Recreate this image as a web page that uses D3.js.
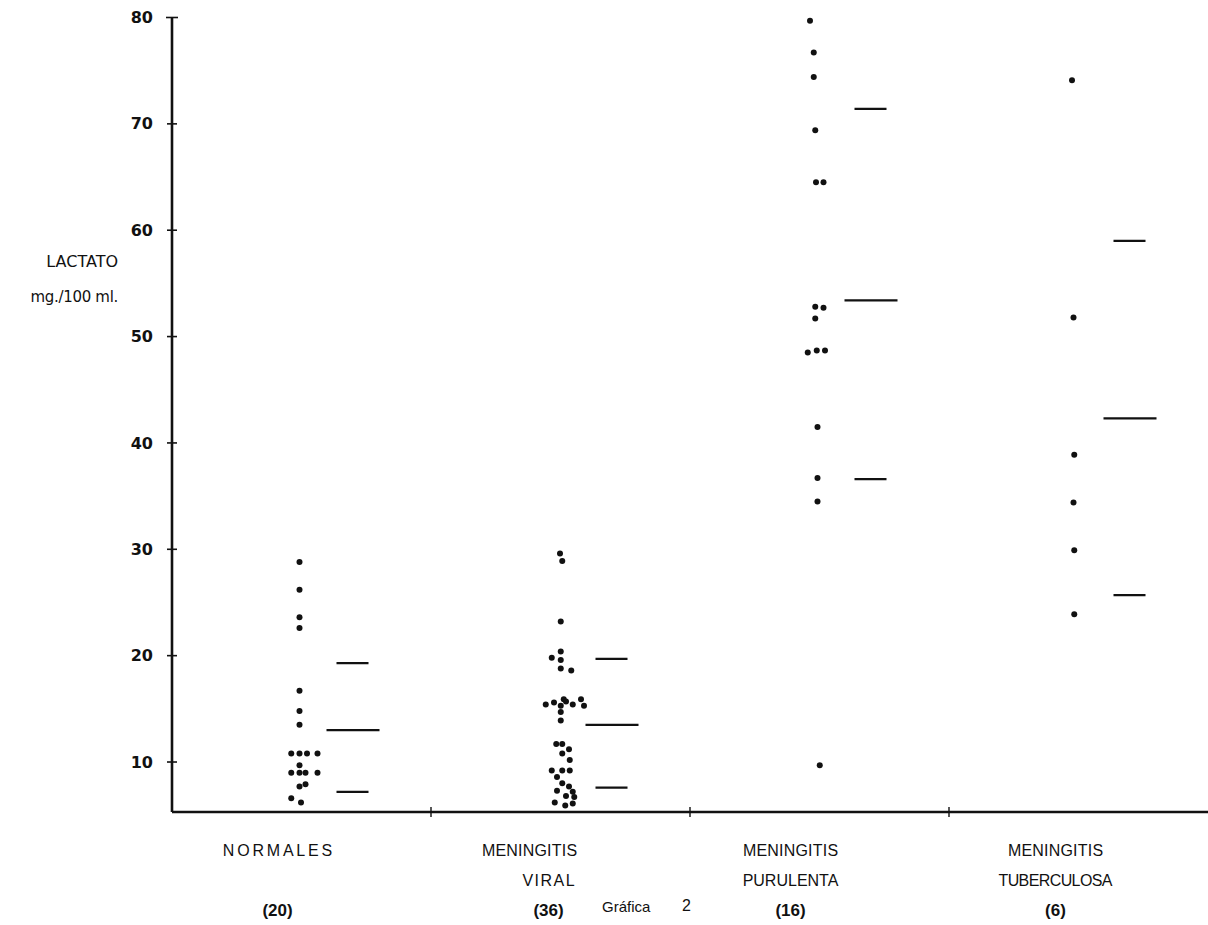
<!DOCTYPE html>
<html><head><meta charset="utf-8">
<script src="https://cdn.jsdelivr.net/npm/d3@7"></script>
<style>
html,body{margin:0;padding:0;background:#fff;}
svg{display:block;}
text{font-family:"Liberation Sans",Arial,sans-serif;fill:#111;}
</style></head>
<body>
<svg id="chart" width="1208" height="925"></svg>
<script>
// ---- data ----
const categories = ["NORMALES", "MENINGITIS VIRAL", "MENINGITIS PURULENTA", "MENINGITIS TUBERCULOSA"];
const labelLine1 = ["NORMALES", "MENINGITIS", "MENINGITIS", "MENINGITIS"];
const labelLine2 = ["", "VIRAL", "PURULENTA", "TUBERCULOSA"];
const labelCounts = ["(20)", "(36)", "(16)", "(6)"];
const yTicks = [10, 20, 30, 40, 50, 60, 70, 80];

const normalesValues = [28.8, 26.2, 23.6, 22.6, 16.7, 14.8, 13.5, 10.8, 10.8, 10.8, 10.8, 9.7, 9.0, 9.0, 9.0, 9.0, 7.9, 7.7, 6.6, 6.2];
const normalesSlots  = [0, 0, 0, 0, 0, 0, 0, -1.1, 0, 1, 2.4, 0, -1.1, 0, 0.8, 2.4, 0.8, 0, -1.1, 0.2];

const viralValues = [29.6, 28.9, 23.2, 20.4, 19.8, 19.6, 18.8, 18.6,
  15.4, 15.6, 15.9, 15.7, 15.4, 15.9, 15.3, 15.3, 14.7, 13.9,
  11.7, 11.7, 11.2, 10.8, 10.2, 9.2, 9.2, 9.2, 8.6, 8.0, 7.7, 7.3, 7.2, 6.8, 6.7, 6.2, 5.9, 6.1];
const viralSlots = [0.2, 0.5, 0.3, 0.3, -0.9, 0.3, 0.3, 1.7,
  -1.7, -0.6, 0.7, 1.0, 1.9, 3.0, 3.4, 0.3, 0.3, 0.3,
  -0.3, 0.5, 1.4, 0.5, 1.5, -0.9, 0.5, 1.5, -0.2, 0.5, 1.4, -0.2, 1.9, 1.0, 2.1, -0.5, 0.9, 1.9];

const purulentaValues = [79.7, 76.7, 74.4, 69.4, 64.5, 64.5, 52.8, 52.7, 51.7, 48.5, 48.7, 48.7, 41.5, 36.7, 34.5, 9.7];
const purulentaSlots  = [-1.0, -0.5, -0.5, -0.3, -0.2, 0.8, -0.3, 0.8, -0.3, -1.3, -0.1, 1.0, 0, 0, 0, 0.3];

const tuberculosaValues = [74.1, 51.8, 38.9, 34.4, 29.9, 23.9];
const tuberculosaSlots  = [-0.6, -0.4, -0.3, -0.4, -0.3, -0.3];

const meanValues  = [13.0, 13.5, 53.4, 42.3];
const upperValues = [19.3, 19.7, 71.4, 59.0];
const lowerValues = [7.2, 7.6, 36.6, 25.7];

// ---- layout ----
const svg = d3.select("#chart");
const axisX = 172, axisY = 812, rightX = 1208, topY = 17.5;
const x = d3.scaleBand().domain(categories).range([axisX, rightX]).paddingInner(0).paddingOuter(0);
const y = d3.scaleLinear().domain([5.3, 80]).range([axisY, topY]);
const slotStep = 7.5;
const bw = x.bandwidth();
const center = c => x(c) + bw / 2 - 2;

const groups = [
  {cat: categories[0], values: normalesValues, slots: normalesSlots},
  {cat: categories[1], values: viralValues, slots: viralSlots},
  {cat: categories[2], values: purulentaValues, slots: purulentaSlots},
  {cat: categories[3], values: tuberculosaValues, slots: tuberculosaSlots}
];

// y axis
const yAxis = d3.axisLeft(y).tickValues(yTicks).tickSize(0).tickPadding(19).tickFormat(d3.format("d"));
const gy = svg.append("g").attr("transform", `translate(${axisX},0)`).call(yAxis);
gy.select(".domain").remove();
gy.selectAll("text").attr("font-size", 16).attr("font-weight", "bold").attr("fill", "#111")
  .style("font-family", '"DejaVu Sans",sans-serif');
svg.append("line").attr("x1", axisX).attr("x2", axisX).attr("y1", y(80)).attr("y2", axisY)
  .attr("stroke", "#111").attr("stroke-width", 2.6);
svg.selectAll(".ytick").data(yTicks).join("line").attr("class", "ytick")
  .attr("x1", d => axisX - (d === 80 ? 6 : 5)).attr("x2", d => axisX + (d === 80 ? 6 : 5))
  .attr("y1", d => y(d)).attr("y2", d => y(d)).attr("stroke", "#111").attr("stroke-width", 1.6);

// x axis
svg.append("line").attr("x1", axisX).attr("x2", rightX).attr("y1", axisY).attr("y2", axisY)
  .attr("stroke", "#111").attr("stroke-width", 2.4);
svg.selectAll(".xtick").data(categories.slice(1)).join("line").attr("class", "xtick")
  .attr("x1", d => x(d)).attr("x2", d => x(d)).attr("y1", axisY - 5).attr("y2", axisY + 5)
  .attr("stroke", "#111").attr("stroke-width", 1.4);

// y label
svg.append("text").attr("x", 118).attr("y", 267).attr("text-anchor", "end").attr("font-size", 16)
  .style("font-family", '"DejaVu Sans",sans-serif').text("LACTATO");
svg.append("text").attr("x", 118).attr("y", 302).attr("text-anchor", "end").attr("font-size", 15)
  .attr("letter-spacing", "-0.3px").style("font-family", '"DejaVu Sans",sans-serif').text("mg./100 ml.");

// dots
groups.forEach(g => {
  svg.append("g").selectAll("circle").data(g.values.map((v, i) => ({v, s: g.slots[i]}))).join("circle")
    .attr("cx", d => center(g.cat) + d.s * slotStep)
    .attr("cy", d => y(d.v))
    .attr("r", 3).attr("fill", "#111");
});

// mean and sd lines
categories.forEach((c, i) => {
  const cx = center(c);
  svg.append("line").attr("x1", cx + 27).attr("x2", cx + 80).attr("y1", y(meanValues[i])).attr("y2", y(meanValues[i]))
    .attr("stroke", "#111").attr("stroke-width", 2.2);
  [upperValues[i], lowerValues[i]].forEach(v => {
    svg.append("line").attr("x1", cx + 37).attr("x2", cx + 69).attr("y1", y(v)).attr("y2", y(v))
      .attr("stroke", "#111").attr("stroke-width", 2.2);
  });
});

// category labels
const labelShift = [-24, -31, -29, -23];
const labelShift2 = [-24, -12, -29, -23];
const spacing1 = [2.8, 0.2, 0.2, 0.2];
const spacing2 = [0, 1.5, 0, -0.6];
categories.forEach((c, i) => {
  const cx = x(c) + bw / 2;
  svg.append("text").attr("x", cx + labelShift[i] + spacing1[i] / 2).attr("y", 856).attr("text-anchor", "middle")
    .attr("font-size", 16).attr("letter-spacing", spacing1[i] + "px").text(labelLine1[i]);
  if (labelLine2[i]) svg.append("text").attr("x", cx + labelShift2[i] + spacing2[i] / 2).attr("y", 886).attr("text-anchor", "middle")
    .attr("font-size", 16).attr("letter-spacing", spacing2[i] + "px").text(labelLine2[i]);
  svg.append("text").attr("x", cx + labelShift2[i]).attr("y", 916).attr("text-anchor", "middle")
    .attr("font-size", 17).attr("font-weight", "bold").text(labelCounts[i]);
});
svg.append("text").attr("x", 602).attr("y", 912).attr("font-size", 15).text("Gráfica");
svg.append("text").attr("x", 682).attr("y", 911).attr("font-size", 16).text("2");
</script>
</body></html>
